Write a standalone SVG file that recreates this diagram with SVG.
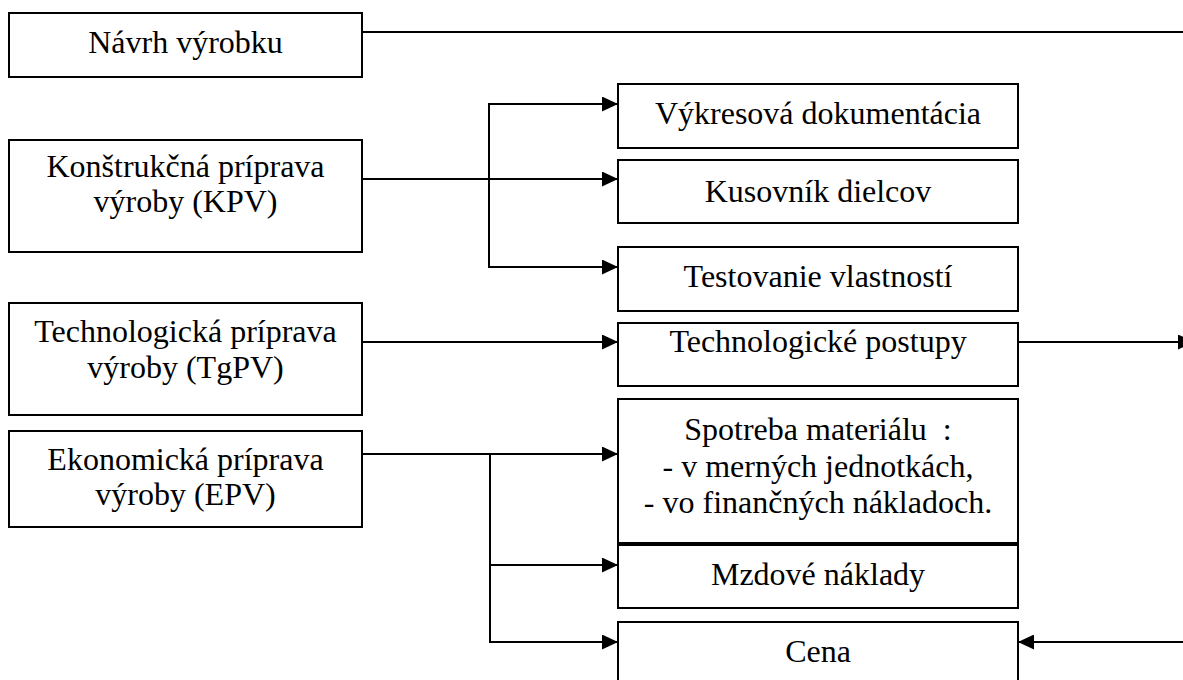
<svg xmlns="http://www.w3.org/2000/svg" width="1183" height="680" viewBox="0 0 1183 680">
<style>
.box{fill:#fff;stroke:#000;stroke-width:2}
.t{font-family:"Liberation Serif","Times New Roman",serif;font-size:32px;fill:#000;text-anchor:middle}
.c{fill:none;stroke:#000;stroke-width:2}
</style>
<defs>
<marker id="ah" viewBox="0 0 16 15" refX="16" refY="7.5" markerWidth="16" markerHeight="15" markerUnits="userSpaceOnUse" orient="auto">
<path d="M0,0 L16,7.5 L0,15 z" fill="#000"/>
</marker>
</defs>
<rect width="1183" height="680" fill="#fff"/>
<g id="connectors">
<path class="c" d="M362,32 H1190"/>
<path class="c" d="M362,179 H618" marker-end="url(#ah)"/>
<path class="c" d="M618,104 H489 V267 H618" marker-end="url(#ah)"/>
<path class="c" d="M489,104 H618" marker-end="url(#ah)"/>
<path class="c" d="M362,342 H618" marker-end="url(#ah)"/>
<path class="c" d="M1018,342 H1194" marker-end="url(#ah)"/>
<path class="c" d="M362,454 H618" marker-end="url(#ah)"/>
<path class="c" d="M490,454 V642 H618" marker-end="url(#ah)"/>
<path class="c" d="M490,565 H618" marker-end="url(#ah)"/>
<path class="c" d="M1190,642 H1018" marker-end="url(#ah)"/>
</g>
<g id="navrh"><rect class="box" x="9" y="13" width="353" height="64"/><text class="t" x="185.5" y="53">Návrh výrobku</text></g>
<g id="kpv"><rect class="box" x="9" y="140" width="353" height="112"/><text class="t" x="185.5" y="177">Konštrukčná príprava</text><text class="t" x="185.5" y="212">výroby (KPV)</text></g>
<g id="tgpv"><rect class="box" x="9" y="303" width="353" height="112"/><text class="t" x="185.5" y="342">Technologická príprava</text><text class="t" x="185.5" y="378">výroby (TgPV)</text></g>
<g id="epv"><rect class="box" x="9" y="431" width="353" height="96"/><text class="t" x="185.5" y="470">Ekonomická príprava</text><text class="t" x="185.5" y="505">výroby (EPV)</text></g>
<g id="vykres"><rect class="box" x="618" y="84" width="400" height="64"/><text class="t" x="818" y="124">Výkresová dokumentácia</text></g>
<g id="kusovnik"><rect class="box" x="618" y="160" width="400" height="63"/><text class="t" x="818" y="202">Kusovník dielcov</text></g>
<g id="testovanie"><rect class="box" x="618" y="247" width="400" height="64"/><text class="t" x="818" y="287">Testovanie vlastností</text></g>
<g id="tpostupy"><rect class="box" x="618" y="323" width="400" height="63"/><text class="t" x="818" y="352">Technologické postupy</text></g>
<g id="spotreba"><rect class="box" x="618" y="399" width="400" height="144"/><text class="t" x="818" y="440" xml:space="preserve">Spotreba materiálu  :</text><text class="t" x="818" y="477">- v merných jednotkách,</text><text class="t" x="818" y="513">- vo finančných nákladoch.</text></g>
<g id="mzdove"><rect class="box" x="618" y="545" width="400" height="63"/><text class="t" x="818" y="585">Mzdové náklady</text></g>
<g id="cena"><rect class="box" x="618" y="622" width="400" height="70"/><text class="t" x="818" y="662">Cena</text></g>
</svg>
